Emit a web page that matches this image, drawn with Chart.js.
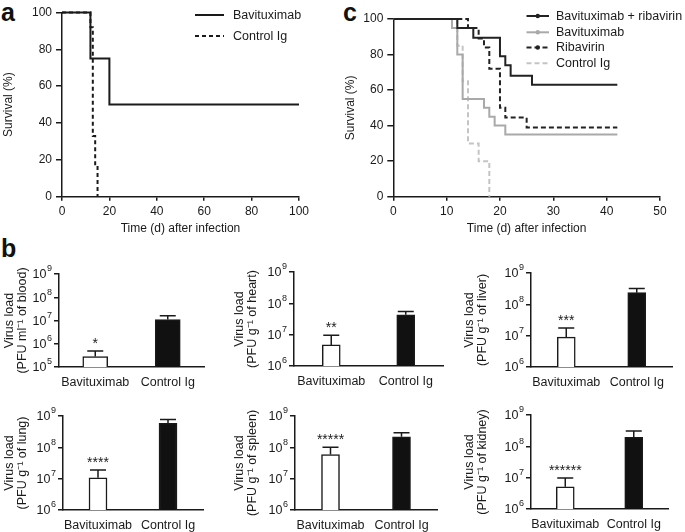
<!DOCTYPE html>
<html><head><meta charset="utf-8">
<script src="https://cdn.jsdelivr.net/npm/chart.js@4/dist/chart.umd.min.js"></script>
<style>
html,body{margin:0;padding:0;background:#fff;}
#wrap{position:relative;width:685px;height:532px;overflow:hidden;font-family:"Liberation Sans",Arial,sans-serif;}
canvas{position:absolute;}
.lbl{position:absolute;font-weight:bold;font-size:25px;line-height:25px;color:#111;}
</style></head><body>
<div id="wrap">
  <div class="lbl" style="left:1px;top:0px">a</div>
  <div class="lbl" style="left:343px;top:0px">c</div>
  <div class="lbl" style="left:1px;top:236px">b</div>
</div>
<script>
// ---------- DATA ----------
// Panel a: Kaplan-Meier survival
const aLabels = ['Bavituximab', 'Control Ig'];
const aBavDays = [0, 12, 20, 100];
const aBavSurv = [100, 75, 50, 50];
const aCtlDays = [0, 12, 13, 14, 15];
const aCtlSurv = [100, 92, 33, 17, 0];

// Panel c: Kaplan-Meier survival
const cLabels = ['Bavituximab + ribavirin', 'Bavituximab', 'Ribavirin', 'Control Ig'];
const cComboDays = [0, 12, 15, 20, 21, 22, 26, 42];
const cComboSurv = [100, 95, 89.5, 79, 74, 68, 63, 63];
const cBavDays = [0, 11, 12, 13, 17, 18, 19, 21, 42];
const cBavSurv = [100, 95, 80, 55, 50, 45, 40, 35, 35];
const cRibDays = [0, 14, 16, 17, 18, 20, 21, 25, 42];
const cRibSurv = [100, 95, 89, 84, 72, 50, 44.5, 39, 39];
const cCtlDays = [0, 12, 13, 14, 16, 18];
const cCtlSurv = [100, 85, 65, 30, 20, 0];

// Panel b: virus load (log scale)
const barCategories = ['Bavituximab', 'Control Ig'];
const organTitles = ['(PFU ml\u207B\u00B9 of blood)', '(PFU g\u207B\u00B9 of heart)', '(PFU g\u207B\u00B9 of liver)',
                     '(PFU g\u207B\u00B9 of lung)', '(PFU g\u207B\u00B9 of spleen)', '(PFU g\u207B\u00B9 of kidney)'];
const meanBavituximab = [2.8e5, 4.7e6, 9.0e6, 1.07e7, 5.9e7, 5.1e6];
const meanControl     = [1.1e7, 4.3e7, 2.36e8, 5.8e8, 2.16e8, 1.95e8];
const errBavituximab  = [4.9e5, 9.6e6, 1.76e7, 1.9e7, 1.0e8, 9.7e6];
const errControl      = [1.6e7, 5.5e7, 3.2e8, 7.8e8, 2.9e8, 3.1e8];
const significance    = ['*', '**', '***', '****', '*****', '******'];
const logMin = [1e5, 1e6, 1e6, 1e6, 1e6, 1e6];
const logMax = [1e9, 1e9, 1e9, 1e9, 1e9, 1e9];

// ---------- SETUP ----------
const FONT = '"Liberation Sans", Arial, sans-serif';
const INK = '#1a1a1a';
Chart.defaults.font.family = FONT;
Chart.defaults.color = INK;
const wrap = document.getElementById('wrap');

function pts(days, vals) { return days.map((d, i) => ({x: d, y: vals[i]})); }

function makeChart(box, area, config) {
  const c = document.createElement('canvas');
  c.width = box.w; c.height = box.h;
  c.style.left = box.x + 'px'; c.style.top = box.y + 'px';
  c.style.width = box.w + 'px'; c.style.height = box.h + 'px';
  wrap.appendChild(c);
  const o = config.options;
  o.responsive = false; o.animation = false; o.devicePixelRatio = 1;
  o.layout = {padding: {left: 0, top: area.t - box.y, right: box.x + box.w - area.r, bottom: 0}};
  o.scales.x.afterFit = s => { s.height = box.y + box.h - area.b; };
  o.scales.y.afterFit = s => { s.width = area.l - box.x; };
  return new Chart(c.getContext('2d'), config);
}

// custom KM legend
const kmLegend = {
  id: 'kmLegend',
  afterDraw(chart, args, opts) {
    if (!opts || !opts.rows) return;
    const ctx = chart.ctx;
    ctx.save();
    chart.data.datasets.forEach((ds, i) => {
      const y = opts.rows[i];
      ctx.strokeStyle = ds.borderColor;
      ctx.lineWidth = ds.borderWidth;
      ctx.setLineDash(ds.borderDash || []);
      ctx.beginPath(); ctx.moveTo(opts.x0, y); ctx.lineTo(opts.x1, y); ctx.stroke();
      ctx.setLineDash([]);
      if (opts.dots && opts.dots[i]) {
        ctx.fillStyle = ds.borderColor;
        ctx.beginPath(); ctx.arc((opts.x0 + opts.x1) / 2, y, 2.2, 0, Math.PI * 2); ctx.fill();
      }
      ctx.fillStyle = INK;
      ctx.font = '12.5px ' + FONT;
      ctx.textBaseline = 'middle';
      ctx.textAlign = 'left';
      ctx.fillText(ds.label, opts.tx, y + 0.5);
    });
    ctx.restore();
  }
};

// error bars + significance stars + power-of-ten tick labels
const errBars = {
  id: 'errBars',
  afterDatasetsDraw(chart, args, opts) {
    if (!opts || !opts.errs) return;
    const ctx = chart.ctx;
    const ys = chart.scales.y;
    const meta = chart.getDatasetMeta(0);
    ctx.save();
    ctx.strokeStyle = INK; ctx.lineWidth = 1.5;
    meta.data.forEach((el, i) => {
      const yTop = el.y;
      const yErr = ys.getPixelForValue(opts.errs[i]);
      ctx.beginPath();
      ctx.moveTo(el.x, yTop); ctx.lineTo(el.x, yErr);
      ctx.moveTo(el.x - opts.cap / 2, yErr); ctx.lineTo(el.x + opts.cap / 2, yErr);
      ctx.stroke();
      if (i === 0 && opts.star) {
        ctx.fillStyle = INK;
        ctx.font = '14px ' + FONT;
        ctx.textAlign = 'center';
        ctx.textBaseline = 'alphabetic';
        ctx.fillText(opts.star, el.x, yErr - 3);
      }
    });
    // tick labels 10^n with real superscript exponent
    ctx.fillStyle = INK;
    ctx.textBaseline = 'middle';
    ys.ticks.forEach(t => {
      const y = ys.getPixelForValue(t.value);
      const e = String(Math.round(Math.log10(t.value)));
      const xr = ys.right - 7;
      ctx.font = '9px ' + FONT;
      const ew = ctx.measureText(e).width;
      ctx.textAlign = 'right';
      ctx.fillText(e, xr, y - 5);
      ctx.font = '12.5px ' + FONT;
      ctx.fillText('10', xr - ew - 0.5, y + 1);
    });
    ctx.restore();
  }
};

function axisStyle(tickLen) {
  return {
    grid: {display: true, drawOnChartArea: false, drawTicks: true, tickLength: tickLen, color: INK, lineWidth: 1.5},
    border: {display: true, color: INK, width: 1.5}
  };
}

// ---------- PANEL A ----------
makeChart({x: 0, y: 0, w: 340, h: 240}, {l: 62, t: 12.5, r: 299, b: 196.7}, {
  type: 'line',
  data: {datasets: [
    {label: aLabels[0], data: pts(aBavDays, aBavSurv), borderColor: INK, borderWidth: 2, stepped: 'before', pointRadius: 0, clip: false, fill: false},
    {label: aLabels[1], data: pts(aCtlDays, aCtlSurv), borderColor: INK, borderWidth: 2, borderDash: [4, 3], stepped: 'before', pointRadius: 0, clip: false, fill: false}
  ]},
  options: {
    plugins: {legend: {display: false}, tooltip: {enabled: false}, kmLegend: {rows: [15, 36], x0: 195, x1: 224, tx: 233}},
    scales: {
      x: Object.assign({type: 'linear', min: 0, max: 100,
        ticks: {stepSize: 20, font: {size: 12}, padding: 4, color: INK},
        title: {display: true, text: 'Time (d) after infection', font: {size: 12}, padding: {top: 0, bottom: 4}, color: INK}}, axisStyle(4)),
      y: Object.assign({type: 'linear', min: 0, max: 100,
        ticks: {stepSize: 20, font: {size: 12}, padding: 4, color: INK},
        title: {display: true, text: 'Survival (%)', font: {size: 12}, padding: {top: 1.5, bottom: 0}, color: INK}}, axisStyle(6))
    }
  },
  plugins: [kmLegend]
});

// ---------- PANEL C ----------
makeChart({x: 340, y: 0, w: 345, h: 240}, {l: 393.3, t: 19, r: 660, b: 196.7}, {
  type: 'line',
  data: {datasets: [
    {label: cLabels[0], data: pts(cComboDays, cComboSurv), borderColor: '#222', borderWidth: 2, stepped: 'before', pointRadius: 0, clip: false},
    {label: cLabels[1], data: pts(cBavDays, cBavSurv), borderColor: '#a9a9a9', borderWidth: 2, stepped: 'before', pointRadius: 0, clip: false},
    {label: cLabels[2], data: pts(cRibDays, cRibSurv), borderColor: '#222', borderWidth: 2, borderDash: [5, 3], stepped: 'before', pointRadius: 0, clip: false},
    {label: cLabels[3], data: pts(cCtlDays, cCtlSurv), borderColor: '#c4c4c4', borderWidth: 2, borderDash: [5, 3], stepped: 'before', pointRadius: 0, clip: false}
  ]},
  options: {
    plugins: {legend: {display: false}, tooltip: {enabled: false},
      kmLegend: {rows: [16, 32.3, 47.5, 63.3], x0: 186.5, x1: 209, tx: 216, dots: [true, true, true, false]}},
    scales: {
      x: Object.assign({type: 'linear', min: 0, max: 50,
        ticks: {stepSize: 10, font: {size: 12}, padding: 4, color: INK},
        title: {display: true, text: 'Time (d) after infection', font: {size: 12}, padding: {top: 0, bottom: 4}, color: INK}}, axisStyle(4)),
      y: Object.assign({type: 'linear', min: 0, max: 100,
        ticks: {stepSize: 20, font: {size: 12}, padding: 4, color: INK},
        title: {display: true, text: 'Survival (%)', font: {size: 12}, padding: {top: 3, bottom: 0}, color: INK}}, axisStyle(6))
    }
  },
  plugins: [kmLegend]
});

// ---------- PANEL B ----------
const barBoxes = [
  {box: {x: 0,   y: 250, w: 215, h: 140}, area: {l: 59,  t: 274, r: 204, b: 367}, titleX: 10,  bar: 25},
  {box: {x: 228, y: 250, w: 222, h: 140}, area: {l: 294, t: 272, r: 443, b: 366}, titleX: 240, bar: 18},
  {box: {x: 455, y: 250, w: 230, h: 140}, area: {l: 531, t: 273, r: 672, b: 367}, titleX: 470, bar: 18},
  {box: {x: 0,   y: 395, w: 215, h: 137}, area: {l: 63,  t: 416, r: 203, b: 510}, titleX: 10,  bar: 18},
  {box: {x: 228, y: 395, w: 222, h: 137}, area: {l: 295, t: 416, r: 437, b: 510}, titleX: 240, bar: 18},
  {box: {x: 455, y: 395, w: 230, h: 137}, area: {l: 531, t: 415, r: 668, b: 509}, titleX: 470, bar: 18}
];

barBoxes.forEach((p, k) => {
  const titleFont = {size: 12.5, lineHeight: 1.04};
  const lh = 12.5 * 1.04;
  makeChart(p.box, p.area, {
    type: 'bar',
    data: {
      labels: barCategories,
      datasets: [{
        data: [meanBavituximab[k], meanControl[k]],
        backgroundColor: ['#ffffff', '#111111'],
        borderColor: INK, borderWidth: 1.5, barThickness: p.bar, borderSkipped: 'bottom'
      }]
    },
    options: {
      plugins: {legend: {display: false}, tooltip: {enabled: false},
        errBars: {errs: [errBavituximab[k], errControl[k]], cap: 16, star: significance[k]}},
      scales: {
        x: {type: 'category', offset: true,
          grid: {display: false, drawTicks: false},
          border: {display: true, color: INK, width: 1.5},
          ticks: {font: {size: 12.5}, padding: 8, color: INK, maxRotation: 0, minRotation: 0, autoSkip: false}},
        y: Object.assign({type: 'logarithmic', min: logMin[k], max: logMax[k],
          afterBuildTicks: s => {
            s.ticks = s.ticks.filter(t => { const l = Math.log10(t.value); return Math.abs(l - Math.round(l)) < 1e-6; });
          },
          ticks: {display: false, autoSkip: false},
          title: {display: true, text: ['Virus load', organTitles[k]], font: titleFont,
            padding: {top: p.titleX - p.box.x - lh / 2, bottom: 0}, color: INK}}, axisStyle(5))
      }
    },
    plugins: [errBars]
  });
});
</script>
</body></html>
